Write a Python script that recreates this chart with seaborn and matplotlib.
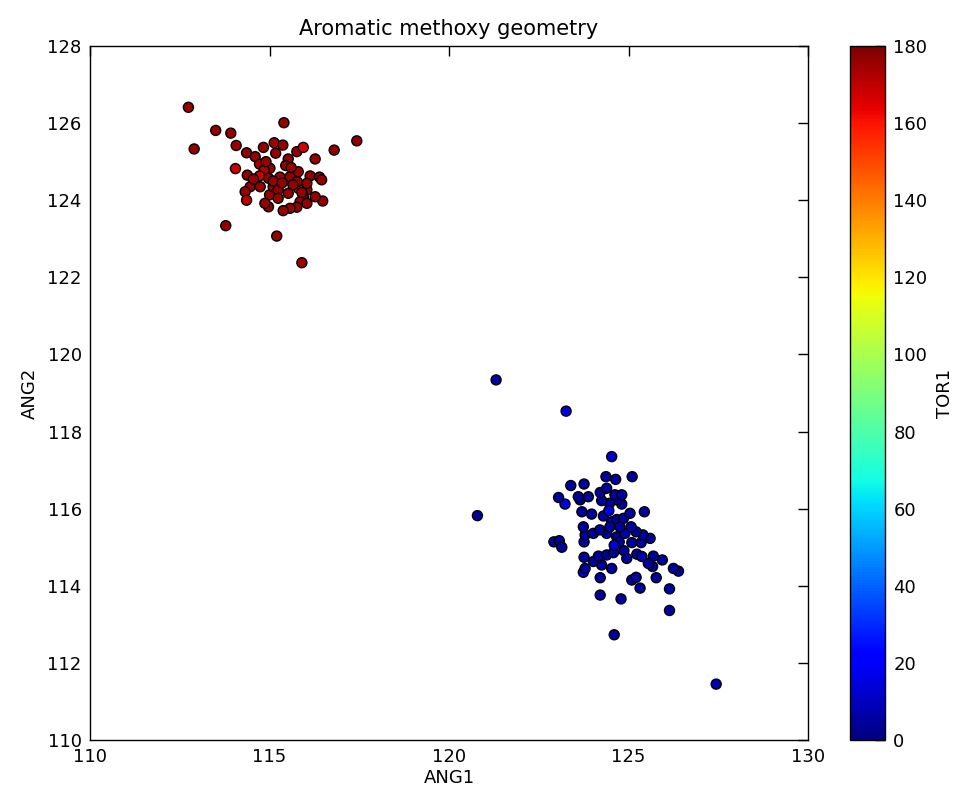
import numpy as np
import pandas as pd
import matplotlib
matplotlib.use("Agg")
import matplotlib.pyplot as plt
import seaborn as sns

# --- data ---
red_ang1 = [112.74, 112.9, 113.5, 113.92, 115.4, 117.43, 116.8, 114.07, 114.05, 113.78,
            115.2, 115.9, 116.27, 116.48, 114.83, 115.13, 115.37, 115.76, 115.94, 114.36,
            114.6, 114.72, 115.17, 115.52, 115.01, 114.85, 114.38, 114.72, 114.97, 115.29,
            115.57, 115.8, 116.13, 116.39, 116.45, 114.46, 114.32, 114.36, 115.0, 115.1,
            115.24, 115.52, 115.8, 116.04, 116.27, 115.94, 115.85, 116.04, 115.76, 115.57,
            115.38, 114.97, 114.87, 115.24, 114.74, 115.77, 116.04, 115.45, 115.65, 114.55,
            115.1, 115.6, 114.9, 115.35, 115.9]
red_ang2 = [126.41, 125.33, 125.81, 125.74, 126.01, 125.54, 125.30, 125.42, 124.82, 123.34,
            123.07, 122.38, 125.07, 123.98, 125.37, 125.49, 125.43, 125.26, 125.37, 125.23,
            125.13, 124.94, 125.22, 125.07, 124.83, 124.78, 124.65, 124.63, 124.57, 124.6,
            124.61, 124.74, 124.63, 124.6, 124.53, 124.35, 124.22, 124.0, 124.14, 124.35,
            124.27, 124.18, 124.31, 124.27, 124.09, 124.09, 123.96, 123.92, 123.82, 123.79,
            123.73, 123.83, 123.92, 124.05, 124.35, 124.48, 124.44, 124.9, 124.4, 124.55,
            124.5, 124.85, 125.0, 124.45, 124.2]
red_tor1 = [176, 176, 177, 176, 176, 176, 176, 176, 168, 176,
            176, 174, 176, 176, 176, 174, 176, 176, 166, 176,
            176, 174, 176, 176, 176, 172, 176, 168, 176, 174,
            176, 176, 176, 176, 176, 176, 176, 170, 176, 176,
            176, 176, 166, 176, 176, 176, 176, 176, 176, 176,
            176, 176, 176, 176, 176, 176, 176, 176, 176, 176,
            176, 176, 176, 176, 176]

blue_ang1 = [121.31, 123.26, 120.79, 124.53, 127.44, 124.6, 126.14, 126.14, 124.79, 124.21,
             125.32, 125.09, 125.21, 124.21, 123.74, 123.79, 125.77, 126.39, 126.25, 125.94,
             125.69, 125.67, 125.55, 125.23, 125.37, 124.53, 124.25, 124.02, 123.76, 124.16,
             124.39, 124.58, 124.87, 124.95, 122.92, 123.07, 123.14, 123.76, 123.79, 123.74,
             124.02, 124.39, 124.67, 124.74, 124.9, 125.09, 125.35, 125.6, 125.4, 125.21,
             125.07, 124.53, 124.67, 124.86, 124.76, 124.48, 123.7, 123.97, 124.3, 125.44,
             125.04, 124.81, 124.67, 124.47, 124.25, 123.65, 123.6, 123.23, 123.05, 123.88,
             124.21, 124.39, 124.62, 124.81, 123.39, 123.76, 124.37, 124.64, 125.1, 124.6,
             124.2, 124.45]
blue_ang2 = [119.34, 118.53, 115.82, 117.35, 111.45, 112.73, 113.36, 113.92, 113.66, 113.76,
             113.94, 114.15, 114.22, 114.21, 114.35, 114.45, 114.21, 114.38, 114.45, 114.67,
             114.77, 114.5, 114.58, 114.82, 114.76, 114.45, 114.54, 114.63, 114.74, 114.77,
             114.8, 114.86, 114.91, 114.71, 115.14, 115.17, 115.0, 115.14, 115.32, 115.53,
             115.36, 115.36, 115.27, 115.14, 115.36, 115.12, 115.12, 115.23, 115.32, 115.4,
             115.53, 115.66, 115.72, 115.75, 115.53, 115.53, 115.92, 115.86, 115.81, 115.92,
             115.88, 116.12, 116.23, 116.14, 116.21, 116.23, 116.31, 116.12, 116.29, 116.31,
             116.42, 116.53, 116.36, 116.36, 116.6, 116.64, 116.83, 116.76, 116.83, 115.05,
             115.45, 115.95]
blue_tor1 = [6, 16, 4, 14, 9, 5, 5, 5, 5, 5,
             5, 8, 5, 5, 16, 5, 5, 5, 5, 5,
             5, 5, 5, 5, 8, 5, 5, 5, 5, 5,
             5, 5, 5, 5, 5, 5, 5, 5, 5, 5,
             5, 5, 5, 5, 8, 5, 5, 5, 5, 5,
             5, 5, 5, 5, 5, 5, 5, 5, 5, 5,
             5, 5, 5, 5, 5, 5, 5, 16, 5, 5,
             5, 5, 5, 5, 5, 5, 5, 5, 5, 14,
             5, 18]

df = pd.DataFrame({
    "ANG1": red_ang1 + blue_ang1,
    "ANG2": red_ang2 + blue_ang2,
    "TOR1": red_tor1 + blue_tor1,
})

sns.set_style("white")
plt.rcParams["font.family"] = ["DejaVu Sans"]
plt.rcParams["text.color"] = "black"
plt.rcParams["axes.labelcolor"] = "black"
plt.rcParams["xtick.color"] = "black"
plt.rcParams["ytick.color"] = "black"

jet = matplotlib.colormaps["jet"]
fig = plt.figure(figsize=(9.62, 7.93), dpi=100)
ax = fig.add_axes([0.0936, 0.0668, 0.7464, 0.8752])
cax = fig.add_axes([0.8836, 0.0668, 0.0364, 0.8752])

norm = matplotlib.colors.Normalize(vmin=0, vmax=180)
sns.scatterplot(data=df, x="ANG1", y="ANG2", hue="TOR1", palette=jet,
                hue_norm=norm, legend=False, s=52, edgecolor="black",
                linewidth=1.0, ax=ax)

ax.set_xlim(110, 130)
ax.set_ylim(110, 128)
ax.set_xticks([110, 115, 120, 125, 130])
ax.set_yticks(np.arange(110, 129, 2))
ax.tick_params(direction="in", length=7, width=1, top=True, right=True,
               labelsize=13, colors="black", pad=6)
for sp in ax.spines.values():
    sp.set_visible(True)
    sp.set_color("black")
    sp.set_linewidth(1)
ax.set_xlabel("ANG1", fontsize=13, labelpad=2)
ax.set_ylabel("ANG2", fontsize=13, labelpad=6)
ax.set_title("Aromatic methoxy geometry", fontsize=15, pad=8)

sm = matplotlib.cm.ScalarMappable(norm=norm, cmap=jet)
cb = fig.colorbar(sm, cax=cax)
cb.set_ticks(np.arange(0, 181, 20))
cb.ax.tick_params(direction="in", length=7, width=1, labelsize=13, pad=6,
                  colors="black")
cb.outline.set_linewidth(1)
cb.outline.set_edgecolor("black")
cb.set_label("TOR1", fontsize=13, labelpad=6)

fig.savefig("out.png", dpi=100)
